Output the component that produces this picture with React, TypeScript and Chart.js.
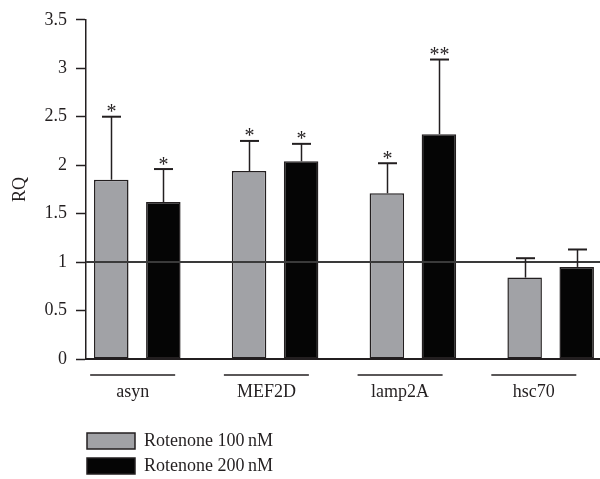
import React, { useEffect, useRef } from "react";
import { Chart, registerables } from "chart.js";

Chart.register(...registerables);

const CATEGORIES = ["asyn", "MEF2D", "lamp2A", "hsc70"];
const SERIES_NAMES = ["Rotenone 100\u2009nM", "Rotenone 200\u2009nM"];
const GREY_VALUES = [1.85, 1.94, 1.71, 0.84];
const BLACK_VALUES = [1.62, 2.04, 2.32, 0.95];
const GREY_ERRORS = [0.65, 0.31, 0.31, 0.2];
const BLACK_ERRORS = [0.34, 0.18, 0.77, 0.18];
const GREY_MARKS = ["*", "*", "*", ""];
const BLACK_MARKS = ["*", "*", "**", ""];
const Y_MIN = 0;
const Y_MAX = 3.5;
const Y_STEP = 0.5;
const Y_TITLE = "RQ";
const REFERENCE_LEVEL = 1;

const FONT = "'Liberation Serif', 'Times New Roman', serif";
const INK = "#231f20";
const GREY = "#a1a2a6";
const BLACK = "#050505";

const categoryTicks = (scale: any) => {
  scale.ticks = CATEGORIES.map((_, i) => ({ value: i }));
};

const decorations = {
  id: "decorations",
  afterLayout(chart: any) {
    const lg = chart.legend;
    if (lg) {
      const w = 260;
      lg.left = 80;
      lg.right = 80 + w;
      lg.width = w;
      lg.top = 425;
      lg.bottom = 479;
      lg.height = 54;
    }
  },
  afterDatasetsDraw(chart: any) {
    const ctx = chart.ctx;
    const y = chart.scales.y;
    const area = chart.chartArea;
    ctx.save();
    const yr = y.getPixelForValue(REFERENCE_LEVEL);
    ctx.strokeStyle = "#3a3a3a";
    ctx.lineWidth = 2;
    ctx.beginPath();
    ctx.moveTo(area.left, yr);
    ctx.lineTo(area.right, yr);
    ctx.stroke();

    const sets: [number[], number[], string[]][] = [
      [GREY_VALUES, GREY_ERRORS, GREY_MARKS],
      [BLACK_VALUES, BLACK_ERRORS, BLACK_MARKS],
    ];
    sets.forEach(([vals, errs, marks], d) => {
      const meta = chart.getDatasetMeta(d);
      meta.data.forEach((bar: any, i: number) => {
        const x = Math.round(bar.x) + 0.5;
        const top = y.getPixelForValue(vals[i]);
        const end = y.getPixelForValue(vals[i] + errs[i]);
        ctx.strokeStyle = INK;
        ctx.lineWidth = 1.5;
        ctx.beginPath();
        ctx.moveTo(x, top);
        ctx.lineTo(x, end);
        ctx.stroke();
        ctx.lineWidth = 2;
        ctx.beginPath();
        ctx.moveTo(x - 9.5, end);
        ctx.lineTo(x + 9.5, end);
        ctx.stroke();
        if (marks[i]) {
          ctx.fillStyle = INK;
          ctx.font = `20px ${FONT}`;
          ctx.textAlign = "center";
          ctx.textBaseline = "alphabetic";
          ctx.fillText(marks[i], x, end + 1.5);
        }
      });
    });
    ctx.restore();
  },
  afterDraw(chart: any) {
    const ctx = chart.ctx;
    const s = chart.scales.x2;
    ctx.save();
    ctx.strokeStyle = INK;
    ctx.lineWidth = 1.5;
    CATEGORIES.forEach((_, i) => {
      const cx = s.getPixelForValue(i);
      const yy = s.top + 16;
      ctx.beginPath();
      ctx.moveTo(cx - 42.5, yy);
      ctx.lineTo(cx + 42.5, yy);
      ctx.stroke();
    });
    ctx.restore();
  },
};

export default function App() {
  const ref = useRef<HTMLCanvasElement | null>(null);

  useEffect(() => {
    if (!ref.current) return;
    const font = { family: FONT, size: 18 };
    const chart = new Chart(ref.current, {
      type: "bar",
      data: {
        datasets: [
          {
            label: SERIES_NAMES[0],
            data: GREY_VALUES.map((v, i) => ({ x: i, y: v })),
            backgroundColor: GREY,
            borderColor: INK,
            borderWidth: 1.5,
            borderSkipped: false,
            categoryPercentage: 0.7555,
            barPercentage: 0.663,
          },
          {
            label: SERIES_NAMES[1],
            data: BLACK_VALUES.map((v, i) => ({ x: i, y: v })),
            backgroundColor: BLACK,
            borderColor: INK,
            borderWidth: 1.5,
            borderSkipped: false,
            categoryPercentage: 0.7555,
            barPercentage: 0.663,
          },
        ],
      } as any,
      options: {
        animation: false,
        responsive: false,
        maintainAspectRatio: false,
        layout: { padding: { top: 15, left: 0, right: 0, bottom: 0 } },
        plugins: {
          legend: {
            position: "bottom",
            align: "start",
            labels: {
              boxWidth: 48,
              boxHeight: 16,
              padding: 7,
              color: INK,
              font,
            },
          },
          tooltip: { enabled: false },
        },
        scales: {
          x: {
            type: "linear",
            display: false,
            offset: false,
            min: -0.3723,
            max: 3.358,
            afterBuildTicks: categoryTicks,
          },
          x2: {
            type: "linear",
            axis: "x",
            position: "bottom",
            offset: false,
            min: -0.349,
            max: 3.495,
            afterBuildTicks: categoryTicks,
            grid: { display: false, drawTicks: false },
            border: { display: true, color: INK, width: 2 },
            ticks: {
              callback: (v: any) => CATEGORIES[v] ?? "",
              padding: 22,
              color: INK,
              font,
              autoSkip: false,
              maxRotation: 0,
            },
            afterFit: (s: any) => {
              s.height = 85;
            },
          },
          y: {
            min: Y_MIN,
            max: Y_MAX,
            ticks: {
              stepSize: Y_STEP,
              padding: 9,
              color: INK,
              font,
              callback: (v: any) => String(Math.round(Number(v) * 10) / 10),
            },
            grid: {
              drawOnChartArea: false,
              tickLength: 10,
              tickColor: INK,
              tickWidth: 1.5,
            },
            border: { color: INK, width: 1.5 },
            title: {
              display: true,
              text: Y_TITLE,
              color: INK,
              font,
              padding: { top: 9, bottom: 0 },
            },
            afterFit: (s: any) => {
              s.width = 86;
            },
          },
        },
      } as any,
      plugins: [decorations],
    });
    return () => chart.destroy();
  }, []);

  return (
    <div style={{ position: "absolute", left: 0, top: 0, width: 600, height: 479 }}>
      <canvas ref={ref} width={600} height={479} style={{ display: "block" }} />
    </div>
  );
}
